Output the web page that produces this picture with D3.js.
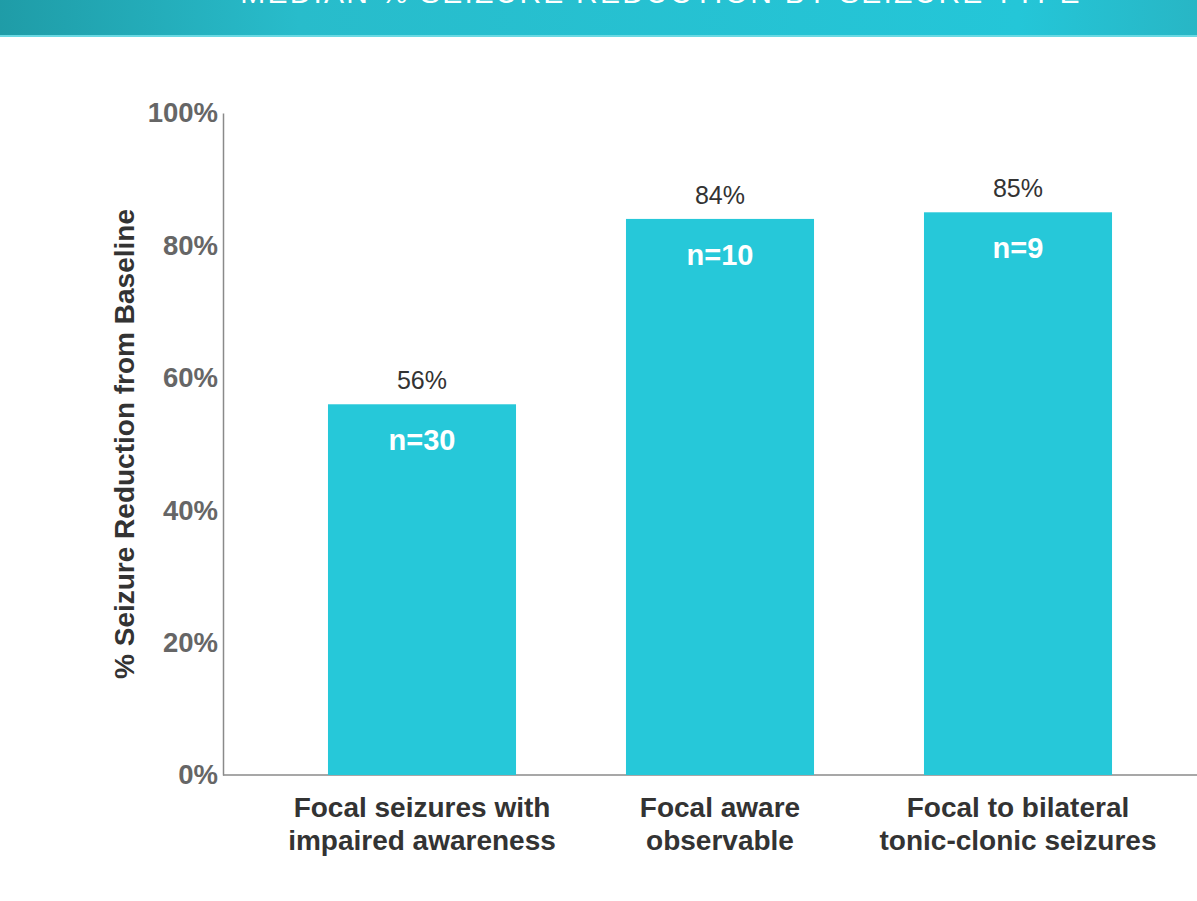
<!DOCTYPE html>
<html>
<head>
<meta charset="utf-8">
<script src="https://cdn.jsdelivr.net/npm/d3@7"></script>
<style>
  html, body { margin: 0; padding: 0; background: #ffffff; }
  svg { display: block; font-family: "Liberation Sans", Arial, sans-serif; }
</style>
</head>
<body>
<svg id="chart" width="1197" height="901"></svg>
<script>
// Median % seizure reduction by seizure type
const title = "MEDIAN % SEIZURE REDUCTION BY SEIZURE TYPE";
const categories = [
  ["Focal seizures with", "impaired awareness"],
  ["Focal aware", "observable"],
  ["Focal to bilateral", "tonic-clonic seizures"]
];
const values = [56, 84, 85];
const counts = ["n=30", "n=10", "n=9"];
const yTicks = [0, 20, 40, 60, 80, 100];
const yLabel = "% Seizure Reduction from Baseline";

const svg = d3.select("#chart");
const W = 1197;

// header banner
const defs = svg.append("defs");
const grad = defs.append("linearGradient").attr("id", "bannerGrad")
  .attr("gradientUnits", "userSpaceOnUse")
  .attr("x1", 0).attr("y1", 40).attr("x2", W).attr("y2", 0);
grad.append("stop").attr("offset", "0%").attr("stop-color", "#1f9ca7");
grad.append("stop").attr("offset", "25%").attr("stop-color", "#28bccb");
grad.append("stop").attr("offset", "85%").attr("stop-color", "#24c6d8");
grad.append("stop").attr("offset", "100%").attr("stop-color", "#28b6c5");
svg.append("rect").attr("x", 0).attr("y", 0).attr("width", W).attr("height", 36)
  .attr("fill", "url(#bannerGrad)");
svg.append("rect").attr("x", 0).attr("y", 35).attr("width", W).attr("height", 2)
  .attr("fill", "#6ad9e3");
svg.append("text").attr("x", 661).attr("y", 3)
  .attr("text-anchor", "middle").attr("fill", "#ffffff")
  .attr("font-size", 30).attr("letter-spacing", 2.2)
  .text(title);

// scales
const y = d3.scaleLinear().domain([0, 100]).range([775, 113]);
const x = d3.scaleBand().domain(d3.range(categories.length))
  .range([273, 1167]).paddingInner(0.369).paddingOuter(0.1845);

// y axis
const yAxis = d3.axisLeft(y).tickValues(yTicks).tickSize(0).tickPadding(5)
  .tickFormat(d => d + "%");
const gy = svg.append("g").attr("transform", "translate(223,0)").call(yAxis);
gy.select(".domain").attr("stroke", "#8a8a8a").attr("stroke-width", 1.5);
gy.selectAll("text").attr("font-size", 27.5).attr("font-weight", "bold")
  .attr("fill", "#666666").attr("font-family", "Liberation Sans, Arial, sans-serif");

// x axis baseline
svg.append("line").attr("x1", 223).attr("x2", W).attr("y1", y(0)).attr("y2", y(0))
  .attr("stroke", "#8a8a8a").attr("stroke-width", 1.5);

// bars
svg.selectAll("rect.bar").data(values).enter().append("rect")
  .attr("class", "bar")
  .attr("x", (d, i) => x(i)).attr("width", x.bandwidth())
  .attr("y", d => y(d)).attr("height", d => y(0) - y(d))
  .attr("fill", "#26c8d9");

// value labels
svg.selectAll("text.val").data(values).enter().append("text")
  .attr("class", "val")
  .attr("x", (d, i) => x(i) + x.bandwidth() / 2)
  .attr("y", d => y(d) - 15)
  .attr("text-anchor", "middle").attr("font-size", 25).attr("fill", "#333333")
  .text(d => d + "%");

// sample size labels
svg.selectAll("text.n").data(counts).enter().append("text")
  .attr("class", "n")
  .attr("x", (d, i) => x(i) + x.bandwidth() / 2)
  .attr("y", (d, i) => y(values[i]) + 46)
  .attr("text-anchor", "middle").attr("font-size", 29).attr("font-weight", "bold")
  .attr("fill", "#ffffff")
  .text(d => d);

// category labels
const cat = svg.selectAll("text.cat").data(categories).enter().append("text")
  .attr("class", "cat")
  .attr("x", (d, i) => x(i) + x.bandwidth() / 2)
  .attr("y", 817)
  .attr("text-anchor", "middle").attr("font-size", 28).attr("font-weight", "bold")
  .attr("fill", "#333333");
cat.selectAll("tspan").data(d => d).enter().append("tspan")
  .attr("x", function () { return d3.select(this.parentNode).attr("x"); })
  .attr("dy", (d, i) => i === 0 ? 0 : 33)
  .text(d => d);

// y axis title
svg.append("text")
  .attr("transform", "translate(134,444) rotate(-90)")
  .attr("text-anchor", "middle").attr("font-size", 28).attr("font-weight", "bold")
  .attr("fill", "#333333")
  .text(yLabel);
</script>
</body>
</html>
